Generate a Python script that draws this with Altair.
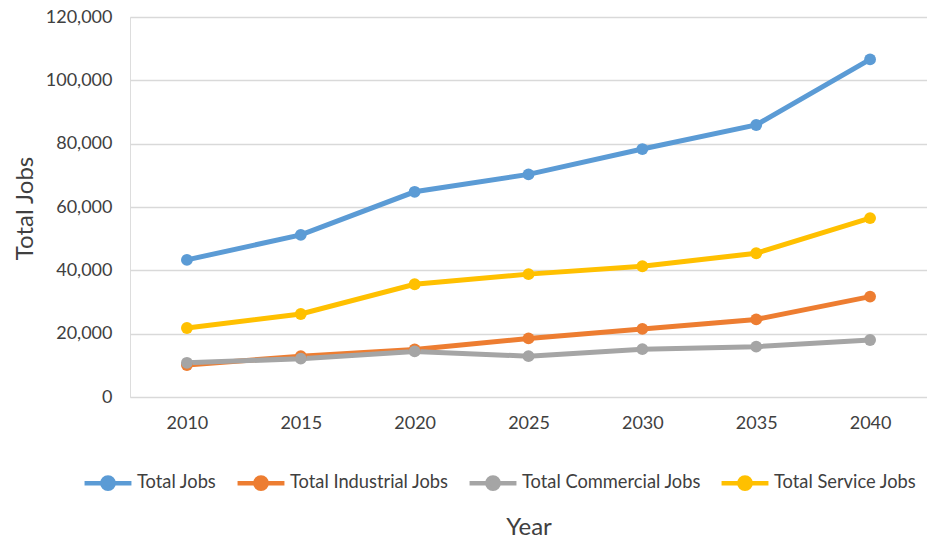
import altair as alt
import pandas as pd

years = ["2010", "2015", "2020", "2025", "2030", "2035", "2040"]
series = ["Total Jobs", "Total Industrial Jobs", "Total Commercial Jobs", "Total Service Jobs"]
colors = ["#5B9BD5", "#ED7D31", "#A5A5A5", "#FFC000"]
total_jobs = [43300, 51200, 64800, 70300, 78300, 85900, 106600]
industrial_jobs = [10100, 12900, 15000, 18500, 21500, 24500, 31700]
commercial_jobs = [10800, 12100, 14400, 12900, 15100, 15900, 18000]
service_jobs = [21800, 26200, 35600, 38800, 41300, 45400, 56500]

values = [total_jobs, industrial_jobs, commercial_jobs, service_jobs]
rows = []
for s, vals in zip(series, values):
    for y, v in zip(years, vals):
        rows.append({"Year": y, "Series": s, "Jobs": v})
df = pd.DataFrame(rows)

FONT = "Lato"
sym = "M-1,0L1,0M-0.24,0A0.24,0.24,0,1,1,0.24,0A0.24,0.24,0,1,1,-0.24,0Z"

color = alt.Color(
    "Series:N",
    scale=alt.Scale(domain=series, range=colors),
    sort=series,
    legend=alt.Legend(
        title=None,
        orient="none",
        direction="horizontal",
        columns=4,
        legendX=-48,
        legendY=60 + 380,
        symbolType=sym,
        symbolSize=2200,
        symbolStrokeWidth=4.5,
        labelFont=FONT,
        labelFontSize=18.3,
        labelColor="#404040",
        labelOffset=3,
        columnPadding=11,
        labelLimit=400,
    ),
)

x = alt.X(
    "Year:O",
    sort=years,
    scale=alt.Scale(paddingInner=0, paddingOuter=0.5),
    axis=alt.Axis(
        title="Year",
        titleFont=FONT,
        titleFontSize=24,
        titleFontWeight="normal",
        titleColor="#404040",
        titleY=130,
        titleBaseline="middle",
        labelAngle=0,
        labelFont=FONT,
        labelFontSize=18,
        labelColor="#404040",
        labelPadding=17,
        ticks=False,
        domain=False,
        grid=False,
    ),
)

y = alt.Y(
    "Jobs:Q",
    scale=alt.Scale(domain=[0, 120000], nice=False),
    axis=alt.Axis(
        title="Total Jobs",
        titleFont=FONT,
        titleFontSize=24,
        titleFontWeight="normal",
        titleColor="#404040",
        titleX=-105,
        titleY=191,
        titleAlign="center",
        titleBaseline="middle",
        values=[0, 20000, 40000, 60000, 80000, 100000, 120000],
        format=",d",
        labelFont=FONT,
        labelFontSize=18,
        labelColor="#404040",
        labelPadding=18,
        ticks=False,
        domain=False,
        grid=True,
        gridColor="#D9D9D9",
        gridWidth=1.3,
    ),
)

base = alt.Chart(df).encode(x=x, y=y, color=color, detail="Series:N")
lines = base.mark_line(strokeWidth=5)
points = base.mark_point(filled=True, size=140, opacity=1)

chart = (
    alt.layer(lines, points)
    .properties(
        width=797,
        height=380,
        autosize=alt.AutoSizeParams(type="none"),
        padding={"left": 130, "top": 17, "right": 0, "bottom": 144},
    )
    .configure_view(stroke=None)
    .configure(background="white")
)

chart.save("out.html", embed_options={"renderer": "svg", "actions": False})
